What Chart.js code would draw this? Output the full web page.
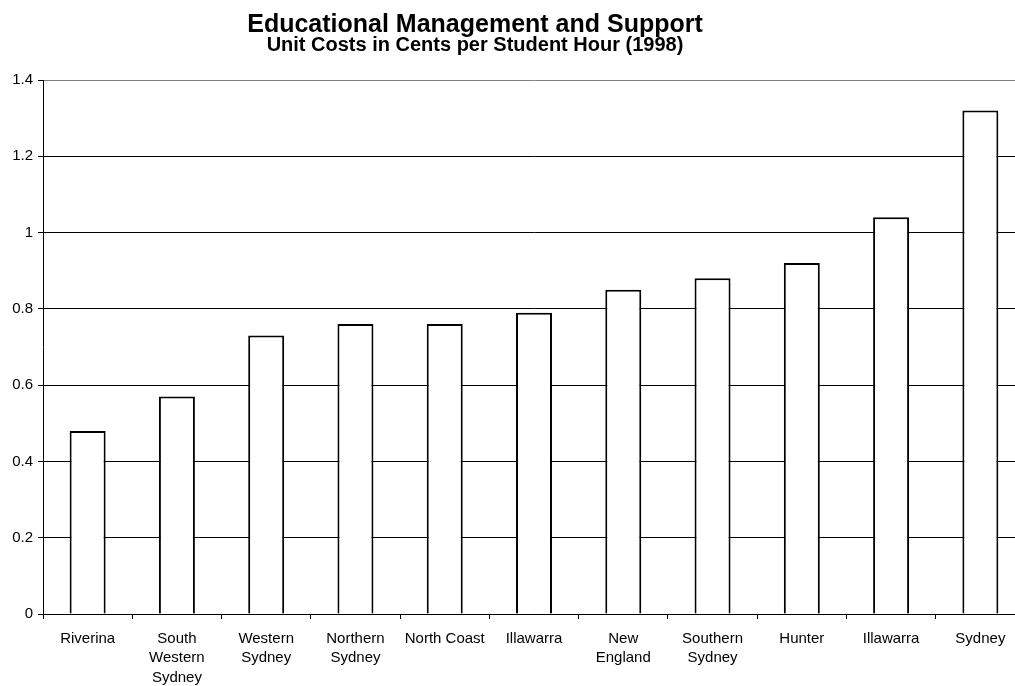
<!DOCTYPE html>
<html>
<head>
<meta charset="utf-8">
<script src="https://cdn.jsdelivr.net/npm/chart.js@4/dist/chart.umd.min.js"></script>
<style>
  html, body { margin: 0; padding: 0; background: #fff; overflow: hidden; }
  #wrap { width: 1015px; height: 686px; overflow: hidden; position: relative; }
</style>
</head>
<body>
<div id="wrap">
  <canvas id="costChart" width="1035" height="686"></canvas>
</div>
<script>
// data
const regions = [
    'Riverina', ['South', 'Western', 'Sydney'], ['Western', 'Sydney'], ['Northern', 'Sydney'],
    'North Coast', 'Illawarra', ['New', 'England'], ['Southern', 'Sydney'], 'Hunter', 'Illawarra', 'Sydney'
];
const unitCosts = [0.48, 0.57, 0.73, 0.76, 0.76, 0.79, 0.85, 0.88, 0.92, 1.04, 1.32];
const yTicks = [0, 0.2, 0.4, 0.6, 0.8, 1, 1.2, 1.4];

const mainTitle = 'Educational Management and Support';
const subTitle = 'Unit Costs in Cents per Student Hour (1998)';

const FONT = '"Liberation Sans", Arial, sans-serif';

// titles are centred a bit left of the canvas middle in the original
const titlePlugin = {
    id: 'titles',
    afterDraw(chart) {
        const ctx = chart.ctx;
        ctx.save();
        ctx.fillStyle = '#000';
        ctx.textAlign = 'center';
        ctx.textBaseline = 'alphabetic';
        ctx.font = 'bold 25px ' + FONT;
        ctx.fillText(mainTitle, 475, 32);
        ctx.font = 'bold 20px ' + FONT;
        ctx.fillText(subTitle, 475, 51);
        ctx.restore();
    }
};

new Chart(document.getElementById('costChart'), {
    type: 'bar',
    data: {
        labels: regions,
        datasets: [{
            data: unitCosts,
            backgroundColor: '#ffffff',
            borderColor: '#000000',
            borderWidth: 2,
            barPercentage: 0.403,
            categoryPercentage: 1
        }]
    },
    options: {
        responsive: false,
        animation: false,
        layout: { padding: { top: 80, right: 10, left: 0, bottom: 0 } },
        plugins: {
            legend: { display: false },
            tooltip: { enabled: false },
            title: { display: false }
        },
        scales: {
            y: {
                min: 0,
                max: 1.4,
                afterFit: s => { s.width = 43; },
                afterBuildTicks: s => { s.ticks = yTicks.map(v => ({ value: v })); },
                grid: {
                    color: c => (c.tick && c.tick.value === 1.4) ? '#808080' : '#000000',
                    lineWidth: 1,
                    tickLength: 5,
                    tickColor: '#000000'
                },
                border: { color: '#000000', width: 1 },
                ticks: {
                    color: '#000',
                    padding: 5,
                    font: { family: FONT, size: 15 },
                    callback: v => String(+Number(v).toFixed(1))
                }
            },
            x: {
                afterFit: s => { s.height = 72; },
                grid: {
                    drawOnChartArea: false,
                    tickLength: 5,
                    tickColor: '#000000',
                    offset: true
                },
                border: { color: '#000000', width: 1 },
                ticks: {
                    color: '#000',
                    padding: 10,
                    maxRotation: 0,
                    autoSkip: false,
                    font: { family: FONT, size: 15, lineHeight: 1.29 }
                }
            }
        }
    },
    plugins: [titlePlugin]
});
</script>
</body>
</html>
